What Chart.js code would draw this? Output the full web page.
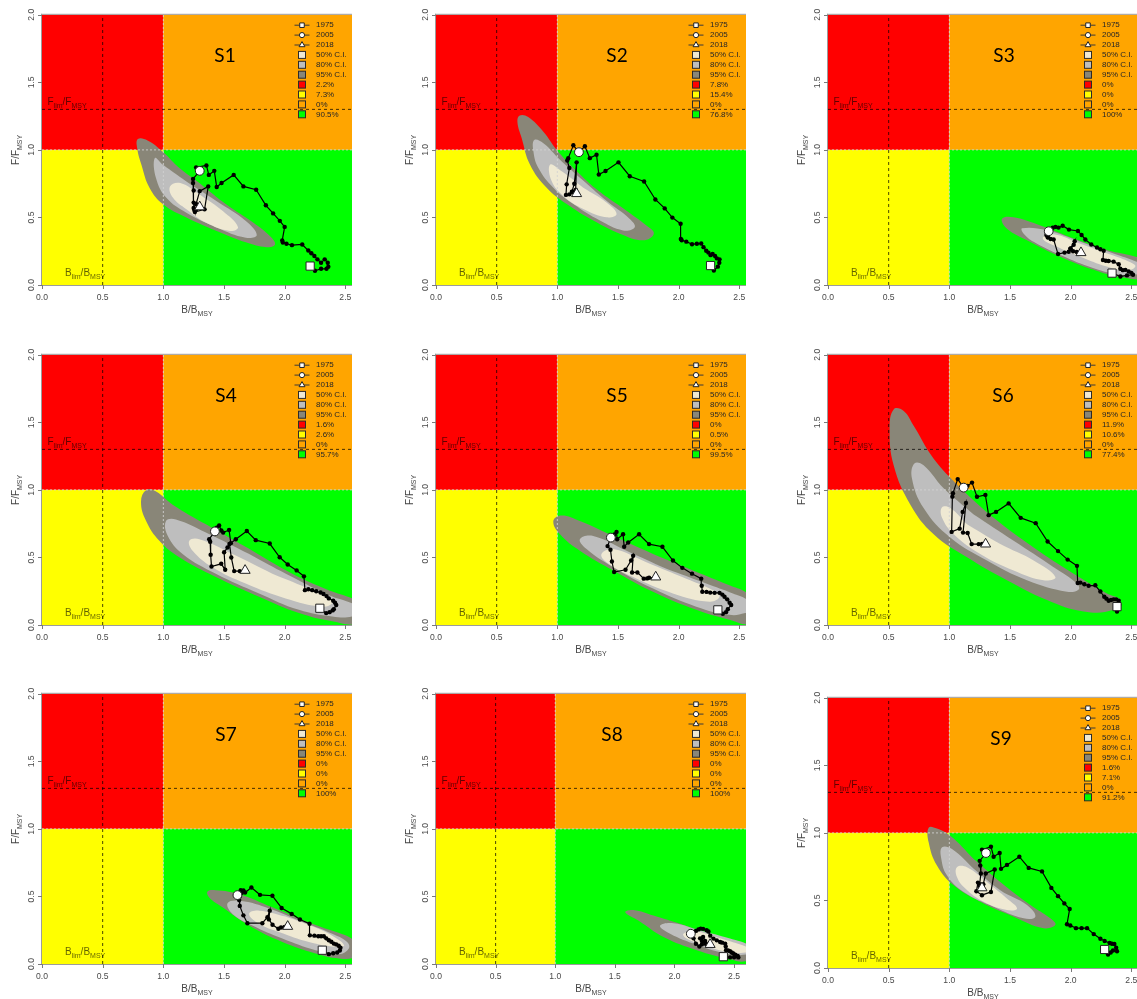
<!DOCTYPE html>
<html lang="en">
<head>
<meta charset="utf-8">
<title>Kobe plots S1–S9</title>
<script src="https://cdn.jsdelivr.net/npm/chart.js@4.4.1/dist/chart.umd.min.js"></script>
<style>
  html, body { margin: 0; padding: 0; background: #ffffff; overflow: hidden; }
  #board { position: relative; width: 1137px; height: 999px; overflow: hidden; background: #ffffff; }
  #board canvas { position: absolute; }
</style>
</head>
<body>
<div id="board"></div>
<script>
// ---------------------------------------------------------------------------
// Reference points and labels shared by every scenario
// ---------------------------------------------------------------------------
const scenarioNames = ['S1', 'S2', 'S3', 'S4', 'S5', 'S6', 'S7', 'S8', 'S9'];
const firstYear = 1975;                 // first year of every trajectory
const markerYears = [1975, 2005, 2018]; // highlighted years
const ciLabels = ['50% C.I.', '80% C.I.', '95% C.I.'];
const xTicks = [0, 0.5, 1, 1.5, 2, 2.5];
const xTickLabels = ['0.0', '0.5', '1.0', '1.5', '2.0', '2.5'];
const yTicks = [0, 0.5, 1, 1.5, 2];
const yTickLabels = ['0.0', '0.5', '1.0', '1.5', '2.0'];
const bMsy = 1, fMsy = 1;     // quadrant boundaries
const bLim = 0.5, fLim = 1.3; // limit reference points

// Stock trajectories, one [B/Bmsy, F/Fmsy] pair per year from 1975 to 2018
const s1Traj = [[2.21,0.14],[2.25,0.105],[2.30,0.12],[2.345,0.12],[2.36,0.135],[2.355,0.165],[2.33,0.19],[2.30,0.165],[2.27,0.19],[2.245,0.215],[2.22,0.235],[2.195,0.255],[2.145,0.30],[2.06,0.295],[2.015,0.305],[1.985,0.315],[1.98,0.33],[2.00,0.43],[1.96,0.475],[1.905,0.53],[1.845,0.59],[1.765,0.705],[1.66,0.73],[1.58,0.815],[1.48,0.755],[1.44,0.725],[1.42,0.845],[1.375,0.815],[1.355,0.885],[1.27,0.87],[1.30,0.845],[1.245,0.785],[1.245,0.755],[1.25,0.70],[1.25,0.61],[1.255,0.555],[1.26,0.54],[1.34,0.56],[1.37,0.73],[1.30,0.695],[1.27,0.60],[1.25,0.57],[1.27,0.56],[1.30,0.578]];
const s2Traj = [[2.263,0.144],[2.29,0.107],[2.323,0.136],[2.335,0.165],[2.337,0.19],[2.315,0.197],[2.30,0.215],[2.28,0.23],[2.263,0.221],[2.245,0.24],[2.227,0.253],[2.205,0.28],[2.186,0.307],[2.15,0.305],[2.11,0.302],[2.063,0.321],[2.025,0.331],[2.018,0.34],[2.016,0.453],[1.948,0.499],[1.885,0.567],[1.808,0.633],[1.715,0.766],[1.597,0.805],[1.504,0.908],[1.397,0.844],[1.342,0.818],[1.323,0.964],[1.268,0.939],[1.227,1.027],[1.178,0.983],[1.132,1.034],[1.09,0.939],[1.082,0.922],[1.099,0.866],[1.077,0.745],[1.071,0.667],[1.099,0.671],[1.126,0.691],[1.151,0.703],[1.159,0.908],[1.14,0.75],[1.12,0.69],[1.159,0.676]];
const s3Traj = [[2.341,0.088],[2.41,0.063],[2.464,0.071],[2.514,0.076],[2.50,0.09],[2.478,0.10],[2.451,0.112],[2.43,0.11],[2.409,0.12],[2.396,0.154],[2.354,0.173],[2.313,0.178],[2.29,0.18],[2.266,0.185],[2.272,0.254],[2.245,0.265],[2.217,0.278],[2.17,0.30],[2.121,0.337],[2.09,0.37],[2.06,0.40],[1.986,0.41],[1.934,0.439],[1.90,0.425],[1.875,0.43],[1.852,0.424],[1.832,0.405],[1.80,0.37],[1.81,0.355],[1.84,0.41],[1.819,0.398],[1.813,0.351],[1.835,0.34],[1.86,0.337],[1.896,0.229],[1.95,0.24],[1.984,0.246],[1.997,0.268],[2.033,0.324],[2.025,0.298],[2.00,0.27],[2.02,0.25],[2.05,0.245],[2.085,0.239]];
const s4Traj = [[2.29,0.124],[2.342,0.088],[2.37,0.095],[2.395,0.108],[2.405,0.117],[2.425,0.148],[2.415,0.165],[2.40,0.18],[2.364,0.197],[2.345,0.214],[2.32,0.23],[2.296,0.241],[2.26,0.25],[2.227,0.258],[2.195,0.265],[2.167,0.258],[2.159,0.36],[2.099,0.404],[2.025,0.448],[1.959,0.501],[1.877,0.603],[1.762,0.628],[1.688,0.696],[1.597,0.635],[1.556,0.606],[1.542,0.703],[1.493,0.684],[1.478,0.70],[1.46,0.737],[1.44,0.72],[1.425,0.693],[1.378,0.635],[1.386,0.616],[1.39,0.52],[1.397,0.433],[1.477,0.453],[1.51,0.409],[1.501,0.538],[1.529,0.574],[1.545,0.60],[1.56,0.50],[1.584,0.399],[1.63,0.399],[1.674,0.404]];
const s5Traj = [[2.323,0.112],[2.364,0.083],[2.39,0.095],[2.405,0.117],[2.433,0.148],[2.42,0.165],[2.40,0.19],[2.378,0.209],[2.36,0.225],[2.337,0.238],[2.296,0.238],[2.26,0.24],[2.23,0.245],[2.195,0.246],[2.19,0.29],[2.186,0.343],[2.11,0.38],[2.03,0.423],[1.953,0.477],[1.866,0.579],[1.756,0.599],[1.674,0.672],[1.584,0.611],[1.551,0.579],[1.542,0.672],[1.493,0.635],[1.488,0.689],[1.47,0.67],[1.46,0.66],[1.45,0.655],[1.441,0.647],[1.414,0.584],[1.438,0.557],[1.45,0.47],[1.468,0.392],[1.562,0.409],[1.608,0.477],[1.625,0.513],[1.616,0.389],[1.66,0.389],[1.712,0.343],[1.74,0.345],[1.756,0.35],[1.811,0.355]];
const s6Traj = [[2.382,0.136],[2.382,0.10],[2.395,0.12],[2.40,0.15],[2.396,0.18],[2.375,0.19],[2.354,0.19],[2.333,0.185],[2.313,0.18],[2.295,0.195],[2.277,0.209],[2.245,0.248],[2.203,0.294],[2.148,0.29],[2.113,0.302],[2.08,0.314],[2.058,0.311],[2.052,0.438],[1.975,0.484],[1.896,0.547],[1.81,0.618],[1.712,0.754],[1.588,0.793],[1.489,0.90],[1.385,0.837],[1.324,0.813],[1.297,0.963],[1.228,0.949],[1.187,1.054],[1.15,1.03],[1.118,1.017],[1.069,1.08],[1.03,0.976],[1.025,0.95],[1.019,0.689],[1.085,0.713],[1.11,0.837],[1.137,0.903],[1.113,0.684],[1.151,0.681],[1.184,0.599],[1.242,0.599],[1.27,0.60],[1.299,0.599]];
const s7Traj = [[2.31,0.102],[2.364,0.073],[2.40,0.08],[2.433,0.085],[2.455,0.10],[2.46,0.12],[2.445,0.135],[2.425,0.145],[2.405,0.151],[2.385,0.165],[2.364,0.176],[2.343,0.19],[2.323,0.205],[2.30,0.205],[2.277,0.205],[2.245,0.21],[2.208,0.212],[2.205,0.298],[2.126,0.329],[2.058,0.371],[1.975,0.415],[1.899,0.505],[1.797,0.512],[1.726,0.566],[1.674,0.529],[1.66,0.545],[1.638,0.546],[1.645,0.525],[1.63,0.50],[1.62,0.52],[1.611,0.51],[1.625,0.473],[1.63,0.43],[1.66,0.36],[1.693,0.302],[1.816,0.302],[1.858,0.346],[1.877,0.395],[1.87,0.33],[1.90,0.29],[1.948,0.261],[1.97,0.27],[2.00,0.275],[2.025,0.278]];
const s8Traj = [[2.41,0.054],[2.466,0.049],[2.50,0.05],[2.536,0.049],[2.53,0.06],[2.522,0.059],[2.51,0.068],[2.494,0.078],[2.48,0.085],[2.466,0.095],[2.45,0.10],[2.433,0.102],[2.43,0.13],[2.425,0.151],[2.40,0.158],[2.383,0.163],[2.355,0.175],[2.327,0.188],[2.30,0.21],[2.285,0.241],[2.27,0.25],[2.24,0.26],[2.22,0.262],[2.201,0.256],[2.18,0.245],[2.16,0.235],[2.15,0.23],[2.14,0.225],[2.145,0.218],[2.14,0.228],[2.137,0.224],[2.16,0.19],[2.18,0.15],[2.209,0.129],[2.23,0.145],[2.257,0.171],[2.24,0.20],[2.215,0.19],[2.23,0.17],[2.26,0.15],[2.28,0.14],[2.29,0.15],[2.295,0.145],[2.299,0.144]];
const s9Traj = [[2.28,0.137],[2.308,0.10],[2.33,0.115],[2.349,0.129],[2.382,0.124],[2.375,0.15],[2.36,0.178],[2.34,0.18],[2.321,0.185],[2.28,0.20],[2.245,0.217],[2.19,0.251],[2.135,0.295],[2.09,0.295],[2.044,0.295],[1.997,0.315],[1.97,0.324],[1.992,0.437],[1.948,0.478],[1.896,0.532],[1.841,0.593],[1.764,0.715],[1.654,0.741],[1.577,0.824],[1.475,0.763],[1.426,0.734],[1.415,0.851],[1.365,0.824],[1.343,0.898],[1.269,0.876],[1.302,0.851],[1.25,0.793],[1.255,0.759],[1.26,0.70],[1.25,0.62],[1.236,0.632],[1.223,0.568],[1.269,0.539],[1.343,0.563],[1.374,0.729],[1.30,0.70],[1.28,0.62],[1.25,0.60],[1.269,0.593]];

// Confidence regions of the final-year status, closed outlines of [B/Bmsy, F/Fmsy]
const s1Ci95 = [[0.79,1.08],[0.87,1.07],[0.997,0.985],[1.135,0.864],[1.30,0.754],[1.52,0.596],[1.74,0.462],[1.88,0.36],[1.92,0.30],[1.85,0.28],[1.68,0.316],[1.44,0.40],[1.19,0.50],[1.0,0.596],[0.887,0.718],[0.82,0.888],[0.785,1.01],[0.79,1.08]];
const s1Ci80 = [[0.93,0.94],[1.0,0.888],[1.19,0.766],[1.44,0.62],[1.68,0.474],[1.77,0.37],[1.68,0.35],[1.44,0.426],[1.19,0.535],[1.025,0.645],[0.94,0.79],[0.93,0.94]];
const s1Ci50 = [[1.055,0.73],[1.14,0.755],[1.30,0.67],[1.49,0.547],[1.615,0.43],[1.55,0.40],[1.35,0.462],[1.19,0.56],[1.08,0.645],[1.055,0.73]];
const s2Ci95 = [[0.69,1.255],[0.76,1.243],[0.885,1.134],[0.995,1.0],[1.132,0.866],[1.323,0.708],[1.57,0.55],[1.734,0.44],[1.795,0.38],[1.707,0.331],[1.515,0.38],[1.296,0.477],[1.077,0.599],[0.912,0.72],[0.775,0.891],[0.707,1.085],[0.671,1.207],[0.69,1.255]];
const s2Ci80 = [[0.81,1.073],[0.885,1.049],[1.022,0.927],[1.186,0.793],[1.405,0.623],[1.597,0.489],[1.638,0.428],[1.542,0.404],[1.351,0.477],[1.132,0.599],[0.967,0.72],[0.844,0.866],[0.803,0.988],[0.81,1.073]];
const s2Ci50 = [[0.94,0.891],[1.036,0.842],[1.214,0.72],[1.405,0.611],[1.488,0.526],[1.405,0.501],[1.214,0.562],[1.049,0.659],[0.953,0.769],[0.94,0.891]];
const s3Ci95 = [[1.434,0.49],[1.53,0.502],[1.75,0.441],[2.025,0.344],[2.299,0.259],[2.55,0.205],[2.70,0.14],[2.65,0.05],[2.409,0.06],[2.19,0.112],[1.915,0.21],[1.64,0.332],[1.475,0.417],[1.434,0.49]];
const s3Ci80 = [[1.60,0.42],[1.805,0.405],[2.08,0.32],[2.354,0.234],[2.55,0.17],[2.65,0.12],[2.55,0.08],[2.409,0.076],[2.19,0.124],[1.915,0.222],[1.695,0.32],[1.613,0.38],[1.60,0.42]];
const s3Ci50 = [[1.77,0.345],[1.86,0.375],[2.08,0.305],[2.327,0.225],[2.492,0.168],[2.533,0.137],[2.464,0.107],[2.299,0.137],[2.08,0.21],[1.887,0.283],[1.77,0.345]];
const s4Ci95 = [[0.86,1.0],[0.94,0.988],[1.077,0.891],[1.351,0.745],[1.734,0.55],[2.063,0.38],[2.364,0.258],[2.556,0.197],[2.72,0.12],[2.60,0.01],[2.392,0.027],[2.118,0.088],[1.789,0.209],[1.433,0.355],[1.132,0.501],[0.967,0.623],[0.858,0.769],[0.816,0.915],[0.86,1.0]];
const s4Ci80 = [[1.022,0.769],[1.104,0.781],[1.351,0.684],[1.734,0.513],[2.063,0.355],[2.364,0.221],[2.556,0.161],[2.65,0.11],[2.556,0.063],[2.392,0.063],[2.118,0.112],[1.789,0.234],[1.433,0.38],[1.159,0.526],[1.036,0.66],[1.022,0.769]];
const s4Ci50 = [[1.214,0.623],[1.296,0.635],[1.57,0.526],[1.899,0.38],[2.227,0.258],[2.364,0.197],[2.392,0.161],[2.31,0.136],[2.008,0.197],[1.679,0.307],[1.405,0.428],[1.241,0.55],[1.214,0.623]];
const s5Ci95 = [[0.967,0.769],[1.036,0.81],[1.186,0.769],[1.46,0.659],[1.789,0.526],[2.118,0.404],[2.419,0.294],[2.548,0.246],[2.72,0.14],[2.60,0.01],[2.419,0.039],[2.145,0.112],[1.789,0.246],[1.46,0.404],[1.186,0.55],[1.022,0.672],[0.967,0.769]];
const s5Ci80 = [[1.186,0.635],[1.296,0.659],[1.57,0.55],[1.899,0.416],[2.227,0.307],[2.447,0.234],[2.548,0.197],[2.65,0.13],[2.548,0.088],[2.419,0.075],[2.145,0.136],[1.789,0.27],[1.46,0.428],[1.241,0.562],[1.186,0.635]];
const s5Ci50 = [[1.364,0.526],[1.46,0.562],[1.734,0.465],[2.063,0.343],[2.282,0.258],[2.337,0.209],[2.255,0.173],[1.953,0.234],[1.625,0.355],[1.405,0.465],[1.364,0.526]];
const s6Ci95 = [[0.541,1.596],[0.624,1.584],[0.706,1.474],[0.871,1.231],[1.091,1.012],[1.365,0.793],[1.695,0.574],[2.025,0.38],[2.299,0.234],[2.409,0.185],[2.354,0.112],[2.107,0.10],[1.805,0.185],[1.475,0.331],[1.146,0.501],[0.871,0.672],[0.679,0.891],[0.541,1.182],[0.508,1.45],[0.541,1.596]];
const s6Ci80 = [[0.712,1.195],[0.788,1.182],[0.953,1.012],[1.201,0.818],[1.53,0.623],[1.86,0.428],[2.052,0.307],[2.066,0.263],[1.97,0.246],[1.64,0.331],[1.31,0.477],[1.008,0.647],[0.788,0.866],[0.692,1.085],[0.712,1.195]];
const s6Ci50 = [[0.94,0.871],[1.008,0.866],[1.146,0.745],[1.42,0.599],[1.695,0.477],[1.874,0.355],[1.777,0.331],[1.53,0.404],[1.255,0.526],[1.036,0.672],[0.94,0.793],[0.94,0.871]];
const s7Ci95 = [[1.364,0.537],[1.433,0.546],[1.625,0.517],[1.899,0.42],[2.227,0.298],[2.501,0.212],[2.551,0.188],[2.66,0.12],[2.58,0.05],[2.447,0.041],[2.255,0.078],[1.981,0.163],[1.707,0.285],[1.488,0.42],[1.378,0.493],[1.364,0.537]];
const s7Ci80 = [[1.529,0.449],[1.625,0.468],[1.844,0.42],[2.118,0.322],[2.392,0.224],[2.515,0.163],[2.529,0.115],[2.447,0.073],[2.255,0.102],[1.981,0.188],[1.734,0.285],[1.57,0.371],[1.529,0.449]];
const s7Ci50 = [[1.707,0.371],[1.789,0.395],[2.008,0.352],[2.227,0.28],[2.392,0.21],[2.49,0.139],[2.419,0.127],[2.2,0.163],[1.953,0.237],[1.789,0.298],[1.707,0.371]];
const s8Ci95 = [[1.587,0.383],[1.656,0.40],[1.824,0.359],[2.047,0.298],[2.327,0.212],[2.598,0.151],[2.75,0.09],[2.598,0.02],[2.466,0.035],[2.187,0.102],[1.908,0.20],[1.70,0.32],[1.587,0.383]];
const s8Ci80 = [[1.88,0.285],[1.992,0.302],[2.215,0.249],[2.466,0.188],[2.598,0.151],[2.70,0.10],[2.598,0.07],[2.439,0.075],[2.159,0.151],[1.936,0.237],[1.88,0.285]];
const s8Ci50 = [[2.075,0.224],[2.187,0.24],[2.383,0.19],[2.598,0.13],[2.68,0.10],[2.598,0.085],[2.466,0.085],[2.243,0.139],[2.103,0.188],[2.075,0.224]];
const s9Ci95 = [[0.83,1.039],[0.898,1.032],[1.008,0.978],[1.201,0.807],[1.42,0.637],[1.668,0.466],[1.832,0.368],[1.874,0.32],[1.777,0.295],[1.53,0.38],[1.255,0.49],[1.036,0.612],[0.898,0.759],[0.83,0.929],[0.83,1.039]];
const s9Ci80 = [[0.94,0.893],[1.022,0.88],[1.201,0.734],[1.42,0.576],[1.64,0.466],[1.709,0.38],[1.613,0.368],[1.365,0.454],[1.118,0.563],[0.981,0.685],[0.934,0.807],[0.94,0.893]];
const s9Ci50 = [[1.063,0.746],[1.146,0.746],[1.31,0.637],[1.475,0.515],[1.558,0.441],[1.475,0.429],[1.283,0.49],[1.132,0.588],[1.063,0.673],[1.063,0.746]];

// Probability of the final-year status in each quadrant: red, yellow, orange, green
const s1Pct = ['2.2%', '7.3%', '0%', '90.5%'];
const s2Pct = ['7.8%', '15.4%', '0%', '76.8%'];
const s3Pct = ['0%', '0%', '0%', '100%'];
const s4Pct = ['1.6%', '2.6%', '0%', '95.7%'];
const s5Pct = ['0%', '0.5%', '0%', '99.5%'];
const s6Pct = ['11.9%', '10.6%', '0%', '77.4%'];
const s7Pct = ['0%', '0%', '0%', '100%'];
const s8Pct = ['0%', '0%', '0%', '100%'];
const s9Pct = ['1.6%', '7.1%', '0%', '91.2%'];

// ---------------------------------------------------------------------------
// Styling and page layout
// ---------------------------------------------------------------------------
const SANS = '"Liberation Sans", Arial, Helvetica, sans-serif';
const ZONE_ORDER = ['red', 'yellow', 'orange', 'green'];
const ZONE_COLORS = { red: '#ff0000', yellow: '#ffff00', orange: '#ffa500', green: '#00ff00' };
const CI_COLORS = ['#efe9d3', '#bebebe', '#898678'];   // 50%, 80%, 95%
const MARKER_STYLES = ['rect', 'circle', 'triangle'];
const MARKER_RADII = [5.8, 4.4, 5.8];
const LEGEND_MARK_R = [3.2, 2.6, 3.4];
const Y_MAX = 2;
const PLOT_W = 310, PLOT_H = 274;
const PAD_L = 42, PAD_T = 3;
const CANVAS_W = 380, CANVAS_H = 317;

const panelLayout = [
  { left: 42,  top: 11,  xMax: 2.555, titleDx: 183 },
  { left: 436, top: 11,  xMax: 2.555, titleDx: 181 },
  { left: 828, top: 11,  xMax: 2.555, titleDx: 176 },
  { left: 42,  top: 351, xMax: 2.555, titleDx: 184 },
  { left: 436, top: 351, xMax: 2.555, titleDx: 181 },
  { left: 828, top: 351, xMax: 2.555, titleDx: 175 },
  { left: 42,  top: 690, xMax: 2.555, titleDx: 184 },
  { left: 436, top: 690, xMax: 2.6,   titleDx: 176 },
  { left: 828, top: 694, xMax: 2.555, titleDx: 173 }
];
const panelData = [
  [s1Traj, s1Ci50, s1Ci80, s1Ci95, s1Pct],
  [s2Traj, s2Ci50, s2Ci80, s2Ci95, s2Pct],
  [s3Traj, s3Ci50, s3Ci80, s3Ci95, s3Pct],
  [s4Traj, s4Ci50, s4Ci80, s4Ci95, s4Pct],
  [s5Traj, s5Ci50, s5Ci80, s5Ci95, s5Pct],
  [s6Traj, s6Ci50, s6Ci80, s6Ci95, s6Pct],
  [s7Traj, s7Ci50, s7Ci80, s7Ci95, s7Pct],
  [s8Traj, s8Ci50, s8Ci80, s8Ci95, s8Pct],
  [s9Traj, s9Ci50, s9Ci80, s9Ci95, s9Pct]
];

const toXY = pairs => pairs.map(([b, f]) => ({ x: b, y: f }));

// A closed outline is restarted part-way along its upper edge so that the
// spline's open ends meet on a gentle stretch instead of at a pointed tip.
function closedOutline(pairs) {
  const ring = pairs.slice(0, -1);
  const k = Math.max(1, Math.floor(ring.length / 4));
  const rotated = ring.slice(k).concat(ring.slice(0, k));
  rotated.push(rotated[0]);
  return toXY(rotated);
}

// Text with subscripted runs, e.g. F_lim / F_MSY
function subText(ctx, parts, x, y, align, mainPx, subPx, color) {
  const widths = parts.map(([t, sub]) => {
    ctx.font = (sub ? subPx : mainPx) + 'px ' + SANS;
    return ctx.measureText(t).width;
  });
  const total = widths.reduce((s, w) => s + w, 0);
  let cx = align === 'center' ? x - total / 2 : (align === 'right' ? x - total : x);
  ctx.fillStyle = color;
  ctx.textAlign = 'left';
  ctx.textBaseline = 'alphabetic';
  parts.forEach(([t, sub], i) => {
    ctx.font = (sub ? subPx : mainPx) + 'px ' + SANS;
    ctx.fillText(t, cx, y + (sub ? mainPx * 0.3 : 0));
    cx += widths[i];
  });
}

function hline(ctx, x1, x2, y) { ctx.beginPath(); ctx.moveTo(x1, y); ctx.lineTo(x2, y); ctx.stroke(); }
function vline(ctx, x, y1, y2) { ctx.beginPath(); ctx.moveTo(x, y1); ctx.lineTo(x, y2); ctx.stroke(); }

function drawLegend(ctx, a, pct) {
  const sx = a.left + 260, tx = a.left + 274;
  const rowY = i => a.top + 10.4 + 9.9 * i;
  const legendFont = '8px ' + SANS;
  ctx.save();
  ctx.lineWidth = 1;
  let row = 0;
  markerYears.forEach((yr, k) => {
    const yy = rowY(row++);
    ctx.strokeStyle = '#3a3a3a';
    hline(ctx, sx - 7.5, sx + 7.5, yy);
    ctx.fillStyle = '#ffffff';
    ctx.strokeStyle = '#222222';
    Chart.helpers.drawPoint(ctx, { pointStyle: MARKER_STYLES[k], radius: LEGEND_MARK_R[k], rotation: 0, borderWidth: 1 }, sx, yy);
    ctx.font = legendFont;
    ctx.fillStyle = '#262626';
    ctx.textAlign = 'left';
    ctx.textBaseline = 'middle';
    ctx.fillText(String(yr), tx, yy);
  });
  const box = (color, label) => {
    const yy = rowY(row++);
    ctx.fillStyle = color;
    ctx.fillRect(sx - 3.5, yy - 3.5, 7, 7);
    ctx.strokeStyle = '#2a2a2a';
    ctx.strokeRect(sx - 3.5, yy - 3.5, 7, 7);
    ctx.font = legendFont;
    ctx.fillStyle = '#262626';
    ctx.textAlign = 'left';
    ctx.textBaseline = 'middle';
    ctx.fillText(label, tx, yy);
  };
  ciLabels.forEach((lab, k) => box(CI_COLORS[k], lab));
  ZONE_ORDER.forEach((z, k) => box(ZONE_COLORS[z], pct[k]));
  ctx.restore();
}

function kobeDecor(name, pct, layout) {
  return {
    id: 'kobeDecor',
    beforeDraw(chart) {
      // quadrant backgrounds split at Bmsy and Fmsy
      const { ctx, chartArea: a, scales: { x, y } } = chart;
      const xb = x.getPixelForValue(bMsy), yf = y.getPixelForValue(fMsy);
      ctx.save();
      ctx.fillStyle = ZONE_COLORS.red;    ctx.fillRect(a.left, a.top, xb - a.left, yf - a.top);
      ctx.fillStyle = ZONE_COLORS.orange; ctx.fillRect(xb, a.top, a.right - xb, yf - a.top);
      ctx.fillStyle = ZONE_COLORS.yellow; ctx.fillRect(a.left, yf, xb - a.left, a.bottom - yf);
      ctx.fillStyle = ZONE_COLORS.green;  ctx.fillRect(xb, yf, a.right - xb, a.bottom - yf);
      ctx.restore();
    },
    afterDatasetsDraw(chart) {
      const { ctx, chartArea: a, scales: { y } } = chart;
      ctx.save();
      const shade = 'rgba(0,0,0,0.62)';
      subText(ctx, [['F', 0], ['lim', 1], ['/', 0], ['F', 0], ['MSY', 1]], a.left + 5.5, y.getPixelForValue(fLim) - 4.5, 'left', 10, 7, shade);
      subText(ctx, [['B', 0], ['lim', 1], ['/', 0], ['B', 0], ['MSY', 1]], a.left + 23, a.bottom - 9, 'left', 10, 7, shade);
      ctx.font = '19px Lato, "Open Sans", sans-serif';
      ctx.fillStyle = '#000000';
      ctx.textAlign = 'center';
      ctx.textBaseline = 'middle';
      ctx.fillText(name, a.left + layout.titleDx, a.top + 41);
      ctx.restore();
      drawLegend(ctx, a, pct);
    },
    afterDraw(chart) {
      const { ctx, chartArea: a, scales: { x, y } } = chart;
      ctx.save();
      ctx.strokeStyle = '#9c9c9c';
      ctx.lineWidth = 1;
      vline(ctx, a.left - 0.5, a.top - 1, a.bottom + 1);
      hline(ctx, a.left - 1, a.right, a.top - 0.5);
      hline(ctx, a.left - 1, a.right, a.bottom + 0.5);
      ctx.strokeStyle = '#7a7a7a';
      yTicks.forEach(v => { const py = Math.round(y.getPixelForValue(v)) + 0.5; hline(ctx, a.left - 4, a.left, py); });
      xTicks.forEach(v => { const px = Math.round(x.getPixelForValue(v)) + 0.5; vline(ctx, px, a.bottom, a.bottom + 4); });
      const tickColor = '#4a4a4a';
      const tickFont = '8.6px ' + SANS;
      ctx.font = tickFont;
      ctx.fillStyle = tickColor;
      ctx.textAlign = 'center';
      ctx.textBaseline = 'middle';
      xTicks.forEach((v, i) => ctx.fillText(xTickLabels[i], x.getPixelForValue(v), a.bottom + 12.5));
      yTicks.forEach((v, i) => {
        ctx.save();
        ctx.translate(a.left - 10, y.getPixelForValue(v));
        ctx.rotate(-Math.PI / 2);
        ctx.font = tickFont;
        ctx.fillStyle = tickColor;
        ctx.textAlign = 'center';
        ctx.textBaseline = 'middle';
        ctx.fillText(yTickLabels[i], 0, 0);
        ctx.restore();
      });
      subText(ctx, [['B', 0], ['/', 0], ['B', 0], ['MSY', 1]], (a.left + a.right) / 2, a.bottom + 28, 'center', 10, 7, '#444444');
      ctx.save();
      ctx.translate(a.left - 23.5, (a.top + a.bottom) / 2);
      ctx.rotate(-Math.PI / 2);
      subText(ctx, [['F', 0], ['/', 0], ['F', 0], ['MSY', 1]], 0, 0, 'center', 10, 7, '#444444');
      ctx.restore();
      ctx.restore();
    }
  };
}

function buildPanel(index) {
  const layout = panelLayout[index];
  const [traj, ci50, ci80, ci95, pct] = panelData[index];
  const board = document.getElementById('board');
  const cv = document.createElement('canvas');
  cv.width = CANVAS_W; cv.height = CANVAS_H;
  cv.style.width = CANVAS_W + 'px'; cv.style.height = CANVAS_H + 'px';
  cv.style.left = (layout.left - PAD_L) + 'px';
  cv.style.top = (layout.top - PAD_T) + 'px';
  board.appendChild(cv);

  const region = (pairs, color, order) => ({
    data: closedOutline(pairs), showLine: true, fill: 'shape', backgroundColor: color,
    borderColor: 'rgba(0,0,0,0)', borderWidth: 0, pointRadius: 0, tension: 0.42, order
  });
  const rule = (pts, color, dash, order) => ({
    data: pts, showLine: true, fill: false, borderColor: color, borderWidth: 1,
    borderDash: dash, pointRadius: 0, tension: 0, order
  });
  const path = toXY(traj);
  const marks = markerYears.map(yr => path[yr - firstYear]);

  new Chart(cv, {
    type: 'scatter',
    data: {
      datasets: [
        region(ci95, CI_COLORS[2], 20),
        region(ci80, CI_COLORS[1], 19),
        region(ci50, CI_COLORS[0], 18),
        rule([{ x: bMsy, y: 0 }, { x: bMsy, y: Y_MAX }], 'rgba(210,210,210,0.85)', [2, 2], 17),
        rule([{ x: 0, y: fMsy }, { x: layout.xMax, y: fMsy }], 'rgba(210,210,210,0.85)', [2, 2], 16),
        rule([{ x: bLim, y: 0 }, { x: bLim, y: Y_MAX }], 'rgba(0,0,0,0.72)', [3, 3], 15),
        rule([{ x: 0, y: fLim }, { x: layout.xMax, y: fLim }], 'rgba(0,0,0,0.72)', [3, 3], 14),
        {
          data: path, showLine: true, fill: false, borderColor: '#000000', borderWidth: 1.2,
          tension: 0, pointRadius: 2.2, pointBackgroundColor: '#000000', pointBorderWidth: 0, order: 2
        },
        {
          data: marks, showLine: false, pointStyle: MARKER_STYLES, pointRadius: MARKER_RADII,
          pointBackgroundColor: '#ffffff', pointBorderColor: '#222222', pointBorderWidth: 1, order: 1
        }
      ]
    },
    options: {
      responsive: false,
      animation: false,
      events: [],
      layout: { padding: { left: PAD_L, top: PAD_T, right: CANVAS_W - PAD_L - PLOT_W, bottom: CANVAS_H - PAD_T - PLOT_H } },
      scales: {
        x: { type: 'linear', min: 0, max: layout.xMax, display: false },
        y: { type: 'linear', min: 0, max: Y_MAX, display: false }
      },
      elements: { line: { capBezierPoints: false } },
      plugins: { legend: { display: false }, tooltip: { enabled: false } }
    },
    plugins: [kobeDecor(scenarioNames[index], pct, layout)]
  });
}

scenarioNames.forEach((_, i) => buildPanel(i));
</script>
</body>
</html>
